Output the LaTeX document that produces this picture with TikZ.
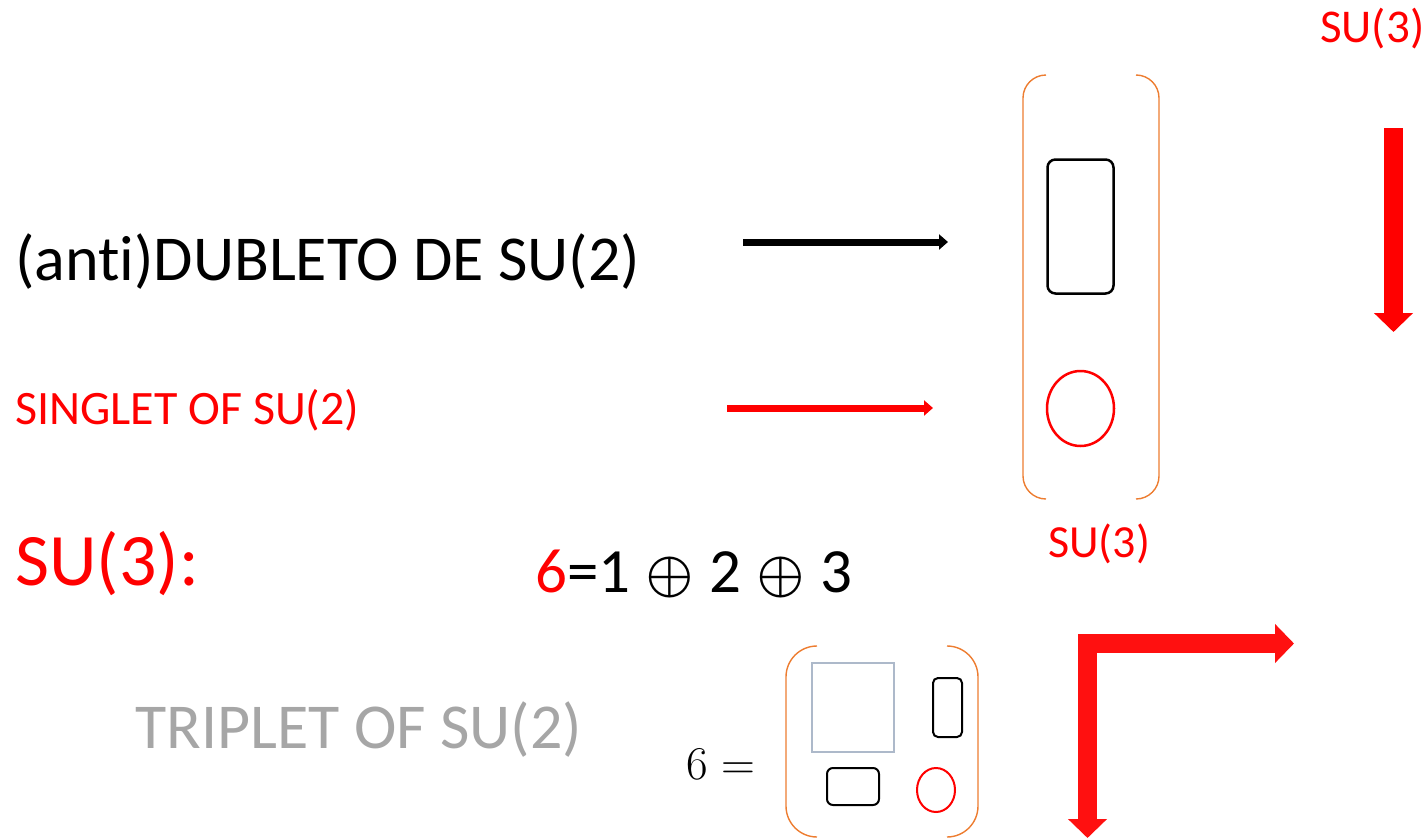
\documentclass[tikz,border=0pt]{standalone}
\usepackage{fontspec}
\setmainfont{Carlito}[Ligatures=NoCommon]
\newfontfamily\lmm{Latin Modern Math}
\newfontfamily\lmr{Latin Modern Roman}
\usetikzlibrary{arrows.meta,shapes.geometric}
\definecolor{ored}{HTML}{FF0000}
\definecolor{lred}{HTML}{FF1010}
\definecolor{obr}{HTML}{ED7D31}
\definecolor{tgray}{HTML}{A6A6A6}
\definecolor{sqgray}{HTML}{ADB9CA}
\newcommand{\myoplus}{\hspace{2pt}{\lmm\fontsize{60}{60}\selectfont ⊕}\hspace{2pt}}
\tikzset{
  txt/.style={inner sep=0pt, anchor=base west},
  bracket/.style={draw=obr, line width=1.4pt},
  rbox/.style={draw=black, line width=2.5pt, rounded corners=8pt, inner sep=0pt},
  rell/.style={draw=ored, line width=2.5pt, ellipse, inner sep=0pt},
  thinarrow/.style={line width=7pt, -{Triangle[width=15pt,length=9pt]}},
  bigarrow/.style={line width=19pt, draw=lred, -{Triangle[width=38pt,length=19pt]}},
}
\begin{document}
\begin{tikzpicture}[x=1pt,y=-1pt]
\useasboundingbox (0,0) rectangle (1428,838);

% texts
\node[txt, font=\fontsize{64}{70}\selectfont] (dub) at (15,280) {(anti)DUBLETO DE SU(2)};
\node[txt, font=\fontsize{48}{52}\selectfont, text=ored] (sing) at (15,424) {SINGLET OF SU(2)};
\node[txt, font=\fontsize{74}{80}\selectfont, text=ored] (su3a) at (15,585) {SU(3):};
\node[txt, font=\fontsize{64}{70}\selectfont, text=tgray] (trip) at (135,748) {TRIPLET OF SU(2)};
\node[txt, font=\fontsize{46}{50}\selectfont, text=ored] (su3b) at (1048,557) {SU(3)};
\node[txt, font=\fontsize{47}{50}\selectfont, text=ored] (su3c) at (1320,42) {SU(3)};
\node[txt, font=\fontsize{63}{70}\selectfont] (eq) at (535,592) {\textcolor{ored}{6}=1 \myoplus{} 2 \myoplus{} 3};
\node[txt, font=\lmr\fontsize{47}{50}\selectfont] (six) at (686,779) {6 =};

% upper bracket box
\draw[bracket] (1046,75) arc[start angle=-90,end angle=-180,radius=23] -- (1023,476) arc[start angle=180,end angle=90,radius=23];
\draw[bracket] (1136,75) arc[start angle=-90,end angle=0,radius=23] -- (1159,476) arc[start angle=0,end angle=90,radius=23];
\node[rbox, minimum width=66pt, minimum height=134pt] (dbox) at (1080.5,226.5) {};
\node[rell, minimum width=67pt, minimum height=75pt] (sell) at (1080.5,408.5) {};

% lower bracket box
\draw[bracket] (817,646) arc[start angle=-90,end angle=-180,radius=31] -- (786,806) arc[start angle=180,end angle=90,radius=31];
\draw[bracket] (947,646) arc[start angle=-90,end angle=0,radius=31] -- (978,806) arc[start angle=0,end angle=90,radius=31];
\node[draw=sqgray, line width=2pt, inner sep=0pt, minimum width=82pt, minimum height=89pt] (sq) at (853,707.5) {};
\node[rbox, line width=2pt, rounded corners=5pt, minimum width=29pt, minimum height=59pt] (vb) at (947.5,707.5) {};
\node[rbox, line width=2pt, rounded corners=6pt, minimum width=52pt, minimum height=37pt] (hb) at (853,786.5) {};
\node[rell, line width=2pt, minimum width=38pt, minimum height=44pt] (e2) at (936,790) {};

% arrows
\coordinate (a1s) at (743,242); \coordinate (a1e) at (948,242);
\coordinate (a2s) at (727,408); \coordinate (a2e) at (933,408);
\draw[thinarrow, draw=black] (a1s) -- (a1e);
\draw[thinarrow, draw=ored] (a2s) -- (a2e);

\coordinate (d1s) at (1393.5,128); \coordinate (d1e) at (1393.5,332);
\draw[bigarrow, draw=ored] (d1s) -- (d1e);

\coordinate (d2s) at (1087.5,634); \coordinate (d2e) at (1087.5,838);
\coordinate (r2s) at (1078,643.5); \coordinate (r2e) at (1294,643.5);
\draw[bigarrow] (d2s) -- (d2e);
\draw[bigarrow] (r2s) -- (r2e);
\end{tikzpicture}
\end{document}
